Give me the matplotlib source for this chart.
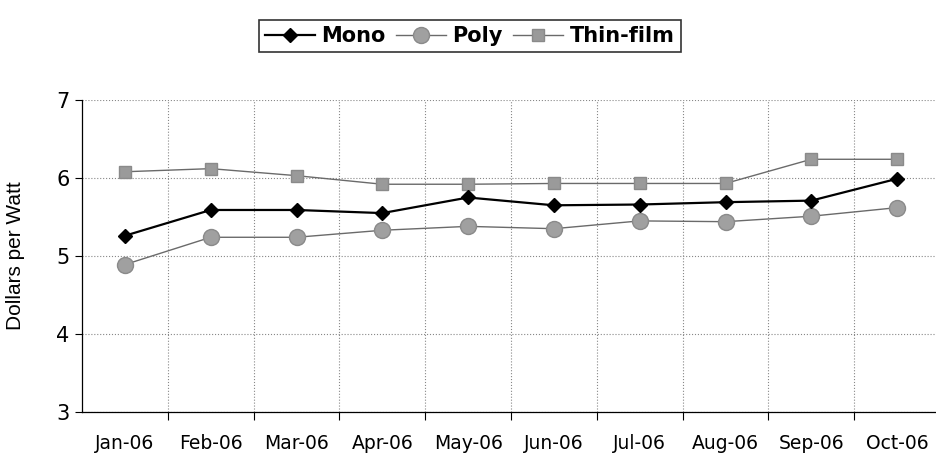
import numpy as np
import matplotlib.pyplot as plt
from matplotlib.ticker import FixedLocator

months = ['Jan-06', 'Feb-06', 'Mar-06', 'Apr-06', 'May-06',
          'Jun-06', 'Jul-06', 'Aug-06', 'Sep-06', 'Oct-06']
mono = [5.26, 5.59, 5.59, 5.55, 5.75, 5.65, 5.66, 5.69, 5.71, 5.99]
poly = [4.89, 5.24, 5.24, 5.33, 5.38, 5.35, 5.45, 5.44, 5.51, 5.62]
thin_film = [6.08, 6.12, 6.03, 5.92, 5.92, 5.93, 5.93, 5.93, 6.24, 6.24]

x = np.arange(1, len(months) + 1)

fig = plt.figure(figsize=(9.36, 4.54), dpi=100)
ax = fig.add_axes([82 / 936, 42 / 454, 858 / 936, 312 / 454])

ax.plot(x, thin_film, color='#6a6a6a', lw=1.0, marker='s', ms=9,
        mfc='#9a9a9a', mec='#8a8a8a', label='Thin-film', zorder=3)
ax.plot(x, poly, color='#6a6a6a', lw=1.0, marker='o', ms=11.5,
        mfc='#a0a0a0', mec='#8a8a8a', label='Poly', zorder=3)
ax.plot(x, mono, color='black', lw=1.6, marker='D', ms=7,
        mfc='black', mec='black', label='Mono', zorder=4)

ax.set_xlim(0.5, len(months) + 0.5)
ax.set_ylim(3, 7)
ax.set_yticks([3, 4, 5, 6, 7])
ax.tick_params(axis='y', labelsize=15, length=5, width=0.8, pad=4)

# category boundaries get the tick marks, labels sit in the middle
ax.xaxis.set_major_locator(FixedLocator(np.arange(1.5, len(months), 1)))
ax.xaxis.set_minor_locator(FixedLocator(x))
ax.set_xticklabels([''] * (len(months) - 1))
ax.set_xticklabels(months, minor=True)
ax.tick_params(axis='x', which='major', length=6, width=0.8, direction='out')
ax.tick_params(axis='x', which='minor', length=0, labelsize=13.5, pad=16)

ax.grid(True, which='major', axis='both', color='#888888', ls=':', lw=0.8)
ax.set_axisbelow(True)

for s in ['top', 'right']:
    ax.spines[s].set_visible(False)
ax.spines['left'].set_linewidth(0.9)
ax.spines['bottom'].set_linewidth(0.9)

ax.set_ylabel('Dollars per Watt', family='Liberation Sans', fontsize=15)
ax.yaxis.set_label_coords(-0.066, 0.5)

h, l = ax.get_legend_handles_labels()
order = [2, 1, 0]
leg = fig.legend([h[i] for i in order], [l[i] for i in order],
                 loc='center', bbox_to_anchor=(0.502, 0.921), ncol=3,
                 frameon=True, fancybox=False, edgecolor='black',
                 prop={'weight': 'bold', 'size': 15}, handlelength=2.4,
                 columnspacing=0.5, handletextpad=0.3, borderpad=0.3)
leg.get_frame().set_linewidth(1.2)

fig.savefig('out.png', dpi=100)
